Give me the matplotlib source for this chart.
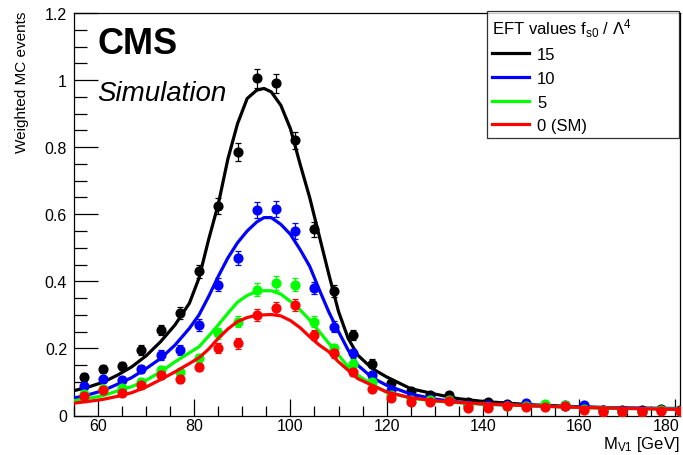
import numpy as np
import matplotlib
matplotlib.use("Agg")
import matplotlib.pyplot as plt
import matplotlib.transforms as mtransforms
from matplotlib.ticker import MultipleLocator, FormatStrFormatter

plt.rcParams["font.family"] = ["Liberation Sans", "DejaVu Sans"]
plt.rcParams["mathtext.fontset"] = "custom"
plt.rcParams["mathtext.rm"] = "Liberation Sans"
plt.rcParams["mathtext.it"] = "Liberation Sans:italic"

# bin centres (4 GeV bins)
mass = np.arange(57, 182, 4)

# weighted MC events per EFT point
ev_15 = [0.115, 0.14, 0.148, 0.195, 0.255, 0.305, 0.43, 0.625, 0.785, 1.005, 0.99,
         0.82, 0.555, 0.37, 0.24, 0.155, 0.097, 0.073, 0.06, 0.06, 0.04, 0.04,
         0.035, 0.033, 0.03, 0.028, 0.025, 0.016, 0.015, 0.015, 0.018, 0.015]
ev_10 = [0.088, 0.108, 0.105, 0.14, 0.18, 0.195, 0.27, 0.39, 0.47, 0.612, 0.615,
         0.55, 0.38, 0.265, 0.185, 0.12, 0.075, 0.055, 0.05, 0.045, 0.03, 0.03,
         0.03, 0.036, 0.03, 0.03, 0.03, 0.015, 0.013, 0.013, 0.016, 0.014]
ev_5 = [0.065, 0.08, 0.082, 0.1, 0.135, 0.13, 0.17, 0.245, 0.28, 0.375, 0.395,
        0.39, 0.28, 0.2, 0.155, 0.1, 0.06, 0.045, 0.045, 0.045, 0.025, 0.025,
        0.028, 0.027, 0.035, 0.03, 0.02, 0.012, 0.011, 0.011, 0.015, 0.014]
ev_0 = [0.058, 0.075, 0.068, 0.09, 0.12, 0.11, 0.145, 0.2, 0.215, 0.3, 0.32,
        0.33, 0.24, 0.185, 0.13, 0.08, 0.052, 0.041, 0.041, 0.044, 0.022, 0.022,
        0.027, 0.025, 0.026, 0.029, 0.017, 0.01, 0.011, 0.011, 0.014, 0.014]

# error bars
err_15 = [0.012, 0.012, 0.012, 0.014, 0.016, 0.017, 0.02, 0.024, 0.026, 0.028, 0.028,
          0.026, 0.022, 0.018, 0.015, 0.012, 0.01, 0.008, 0.007, 0.007, 0.006, 0.006,
          0.005, 0.005, 0.005, 0.005, 0.005, 0.004, 0.004, 0.004, 0.004, 0.004]
err_10 = [0.01, 0.011, 0.011, 0.012, 0.014, 0.014, 0.017, 0.02, 0.021, 0.024, 0.024,
          0.023, 0.019, 0.016, 0.014, 0.011, 0.009, 0.007, 0.007, 0.006, 0.005, 0.005,
          0.005, 0.005, 0.005, 0.005, 0.005, 0.004, 0.004, 0.004, 0.004, 0.004]
err_5 = [0.009, 0.01, 0.01, 0.011, 0.012, 0.012, 0.014, 0.016, 0.017, 0.019, 0.02,
         0.02, 0.017, 0.014, 0.012, 0.01, 0.008, 0.007, 0.007, 0.006, 0.005, 0.005,
         0.005, 0.005, 0.005, 0.005, 0.004, 0.004, 0.004, 0.004, 0.004, 0.004]
err_0 = [0.009, 0.01, 0.01, 0.011, 0.012, 0.012, 0.013, 0.015, 0.016, 0.018, 0.018,
         0.018, 0.016, 0.014, 0.012, 0.01, 0.008, 0.007, 0.007, 0.006, 0.005, 0.005,
         0.005, 0.005, 0.005, 0.005, 0.004, 0.004, 0.004, 0.004, 0.004, 0.004]

# fitted shapes
fit_mass = [55, 58, 61, 64, 67, 70, 73, 76, 79, 81, 83, 85, 87, 89, 91, 93, 94.5, 96,
            98, 100, 102, 104, 106, 108, 110, 112, 114, 117, 120, 125, 130, 135,
            140, 150, 160, 170, 181]
fit_15 = [0.074, 0.085, 0.099, 0.12, 0.145, 0.178, 0.22, 0.27, 0.335, 0.41, 0.525,
          0.63, 0.765, 0.87, 0.945, 0.97, 0.975, 0.965, 0.925, 0.855, 0.75, 0.65,
          0.535, 0.42, 0.31, 0.23, 0.18, 0.14, 0.115, 0.08, 0.064, 0.05, 0.042,
          0.032, 0.026, 0.022, 0.02]
fit_10 = [0.052, 0.062, 0.074, 0.093, 0.113, 0.14, 0.17, 0.21, 0.26, 0.3, 0.355,
          0.415, 0.47, 0.515, 0.55, 0.577, 0.59, 0.59, 0.57, 0.54, 0.495, 0.445,
          0.375, 0.308, 0.25, 0.195, 0.15, 0.113, 0.09, 0.064, 0.049, 0.04, 0.034,
          0.029, 0.025, 0.022, 0.021]
fit_5 = [0.044, 0.051, 0.059, 0.073, 0.086, 0.105, 0.13, 0.16, 0.187, 0.205, 0.237,
         0.27, 0.305, 0.338, 0.358, 0.37, 0.372, 0.372, 0.362, 0.34, 0.315, 0.285,
         0.25, 0.215, 0.18, 0.145, 0.12, 0.092, 0.07, 0.052, 0.043, 0.038, 0.034,
         0.029, 0.024, 0.021, 0.019]
fit_0 = [0.037, 0.042, 0.048, 0.057, 0.068, 0.085, 0.107, 0.13, 0.155, 0.172, 0.198,
         0.23, 0.258, 0.28, 0.292, 0.299, 0.3, 0.301, 0.297, 0.283, 0.262, 0.235,
         0.21, 0.19, 0.16, 0.135, 0.11, 0.09, 0.07, 0.053, 0.044, 0.039, 0.035,
         0.029, 0.024, 0.021, 0.018]

labels = ["15", "10", "5", "0 (SM)"]
colors = ["#000000", "#0000ff", "#00ff00", "#ff0000"]
xticks = [60, 80, 100, 120, 140, 160, 180]

fig = plt.figure(figsize=(6.83, 4.56), dpi=100)
ax = fig.add_axes([74/683, 1 - 416.5/456, 606/683, 402.5/456])

series = zip([ev_15, ev_10, ev_5, ev_0], [err_15, err_10, err_5, err_0],
             [fit_15, fit_10, fit_5, fit_0], labels, colors)
handles = []
for i, (ev, err, fit, lab, c) in enumerate(series):
    ax.errorbar(mass, ev, yerr=err, fmt="o", color=c, ms=6.3, elinewidth=0.9,
                capsize=2.2, capthick=0.9, zorder=2 + 2*i)
    ln, = ax.plot(fit_mass, fit, color=c, lw=2.3, zorder=3 + 2*i, label=lab)
    handles.append(ln)

ax.set_xlim(55, 181)
ax.set_ylim(0, 1.2)
ax.set_xticks(xticks)
ax.set_xticklabels([str(t) for t in xticks])
ax.xaxis.set_minor_locator(MultipleLocator(5))
ax.yaxis.set_major_locator(MultipleLocator(0.2))
ax.yaxis.set_minor_locator(MultipleLocator(0.05))
ax.yaxis.set_major_formatter(FormatStrFormatter("%g"))
ax.tick_params(which="both", direction="in", top=False, right=False,
               labelsize=11.5, width=0.9)
ax.tick_params(axis="x", which="major", length=12, pad=2)
ax.tick_params(axis="x", which="minor", length=7)
ax.tick_params(axis="y", which="major", length=17, pad=5)
ax.tick_params(axis="y", which="minor", length=9)
for s in ax.spines.values():
    s.set_linewidth(0.9)

# last label pushed inside the canvas, as in ROOT output
last = ax.get_xticklabels()[-1]
last.set_ha("right")
last.set_transform(last.get_transform() +
                   mtransforms.ScaledTranslation(4/100, 0, fig.dpi_scale_trans))

fig.text(22/683, 1 - 12/456, "Weighted MC events", rotation=90, ha="center",
         va="top", fontsize=11)
fig.text(680/683, 1 - 454/456, r"M$_{\mathrm{V1}}$ [GeV]", ha="right",
         va="bottom", fontsize=12)

ax.text(0.038, 0.967, "CMS", transform=ax.transAxes, fontsize=26,
        fontweight="bold", va="top", ha="left")
ax.text(0.038, 0.8, "Simulation", transform=ax.transAxes, fontsize=20,
        style="italic", va="center", ha="left")

leg = ax.legend(handles=handles, title=r"EFT values f$_{\mathrm{s0}}$ / $\Lambda^4$",
                loc="upper left", bbox_to_anchor=(413/606, 1.005, 192/606, 0.0),
                mode="expand", fontsize=12, title_fontsize=12, frameon=True,
                fancybox=False, edgecolor="black", handlelength=2.2,
                handletextpad=0.5, labelspacing=0.52, borderpad=0.3,
                borderaxespad=0)
leg._legend_box.align = "left"
leg.get_frame().set_linewidth(0.9)
leg.set_zorder(20)

fig.savefig("out.png", dpi=100)
